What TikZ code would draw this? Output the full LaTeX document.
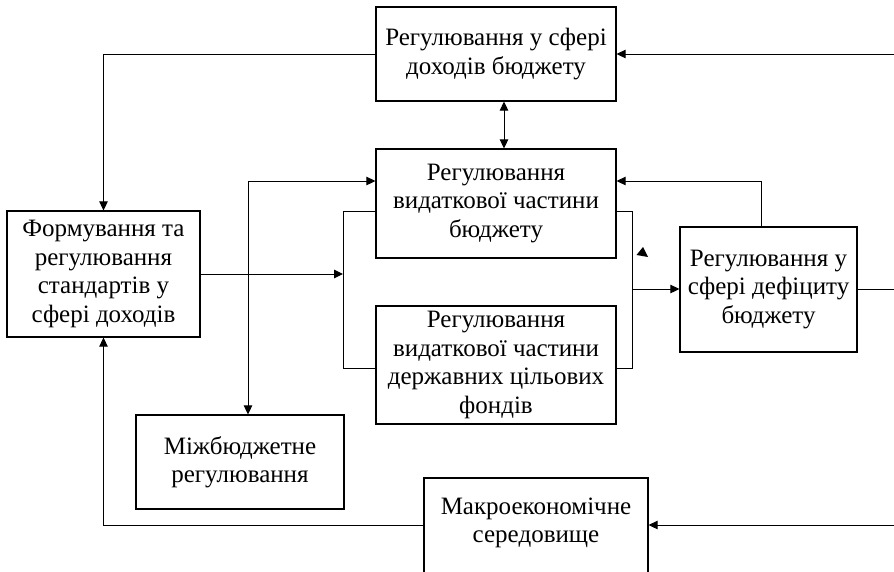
\documentclass[tikz,border=0pt]{standalone}
\usepackage{fontspec}
\setmainfont{Liberation Serif}
\usetikzlibrary{arrows.meta}
\begin{document}
\begin{tikzpicture}[x=1pt,y=-1pt,
  txt/.style={inner sep=0pt,align=center,font=\fontsize{25}{28.5}\selectfont},
  box/.style={txt,draw,line width=1.2pt,rectangle},
  conn/.style={line width=1pt},
  arr/.style={conn,-{Triangle[length=9pt,width=8.5pt]}},
  darr/.style={conn,{Triangle[length=9pt,width=8.5pt]}-{Triangle[length=9pt,width=8.5pt]}}]
\useasboundingbox (0,0) rectangle (894,571);
\clip (0,0) rectangle (894,571);
\node[box,minimum width=240pt,minimum height=94pt] (inc) at (496,54) {Регулювання у сфері\\доходів бюджету};
\node[box,minimum width=240pt,minimum height=109pt] (exp) at (496,203.5) {Регулювання\\видаткової частини\\бюджету};
\node[box,minimum width=240pt,minimum height=118pt] (fond) at (496,365) {Регулювання\\видаткової частини\\державних цільових\\фондів};
\node[box,minimum width=193pt,minimum height=126pt] (form) at (103.5,274) {Формування та\\регулювання\\стандартів у\\сфері доходів};
\node[box,minimum width=208pt,minimum height=94pt] (mizh) at (240,462) {Міжбюджетне\\регулювання};
\node[box,minimum width=177pt,minimum height=125pt] (def) at (768.5,289.5) {Регулювання у\\сфері дефіциту\\бюджету};
\node[box,minimum width=224pt,minimum height=100pt] (macro) at (536,528) {};
\node[txt] (macrot) at (536,523) {Макроекономічне\\середовище};
\coordinate (rin) at (894,54);
\coordinate (rdef) at (894,289);
\coordinate (rmac) at (894,525);
\coordinate (jl) at (343,274);
\coordinate (jr) at (632,289);
% top income box
\draw[arr] (inc.west) -| (form.north);
\draw[arr] (rin) -- (inc.east);
\draw[darr] ([xshift=8pt]inc.south) -- ([xshift=8pt]exp.north);
% formation to bracket
\draw[arr] (form.east) -- (jl);
\draw[conn] ([yshift=-7.5pt]exp.west) -| (343,368) -- (fond.west |- 0,368);
% interbudget
\draw[darr] ([xshift=8pt]mizh.north) |- ([yshift=22.5pt]exp.west);
% right bracket
\draw[conn] ([yshift=-7.5pt]exp.east) -| (632,368) -- (fond.east |- 0,368);
\draw[arr] (jr) -- (def.west |- jr);
\draw[arr] ([xshift=-7.5pt]def.north) |- ([yshift=22.5pt]exp.east);
\draw[conn] (def.east |- rdef) -- (rdef);
% macro
\draw[arr] (rmac) -- (macro.east |- rmac);
\draw[arr] (macro.west |- rmac) -| (form.south);
% stray arrowhead
\fill (643,247) -- (636.5,255) -- (648,257) -- cycle;
\end{tikzpicture}
\end{document}
